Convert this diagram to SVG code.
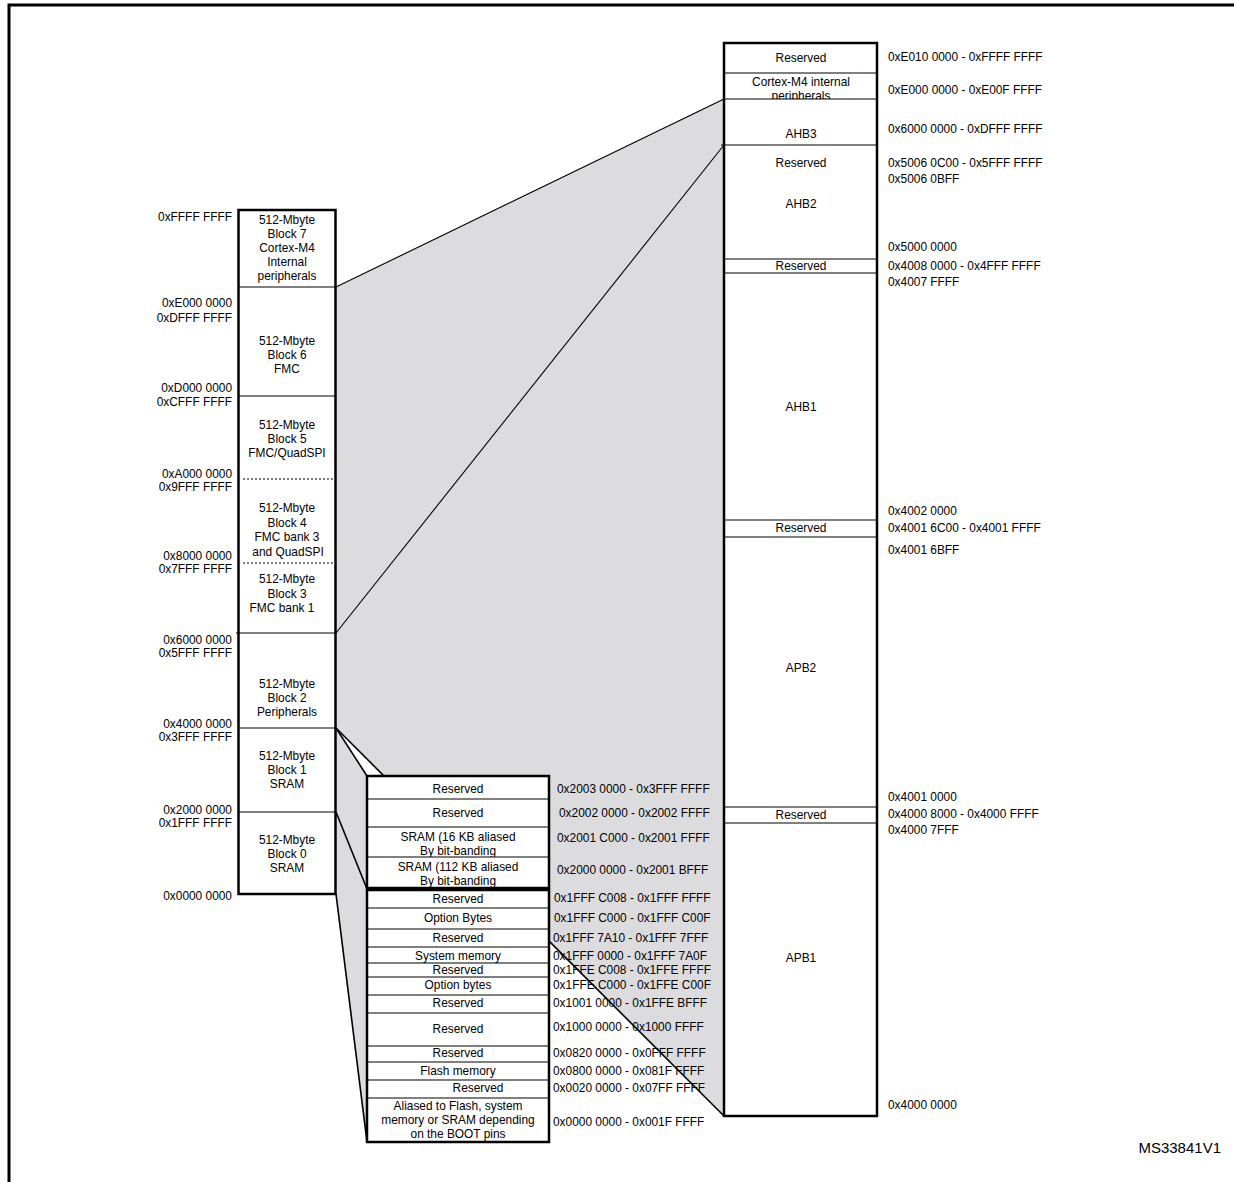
<svg xmlns="http://www.w3.org/2000/svg" width="1234" height="1182" viewBox="0 0 1234 1182">
<style>
.t{font-family:"Liberation Sans",Arial,sans-serif;font-size:11.9px;fill:#000}
.c{text-anchor:middle}
.e{text-anchor:end}
.cell{fill:#fff;stroke:none}
.sep{stroke:#000;stroke-width:1.2}
.dot{stroke:#000;stroke-width:1.2;stroke-dasharray:2 2}
.frame{fill:none;stroke:#000;stroke-width:2.5}
.ln{stroke:#000;fill:none;stroke-width:1.1}
.lt{stroke:#000;fill:none;stroke-width:1.6}
.gray{fill:#dcdcde}
</style>
<rect width="1234" height="1182" fill="#fff"/>
<path d="M9 1182 V5 H1234" fill="none" stroke="#000" stroke-width="3"/>

<g id="projection">
<polygon class="gray" points="336,287 723,99 723,1116 336,728"/>
<polygon class="gray" points="336,728 367,776 367,1142 336,893"/>
</g>

<g id="connectors">
<line class="ln" x1="336" y1="287" x2="724" y2="99"/>
<line class="ln" x1="336" y1="633" x2="724" y2="145"/>
<line class="lt" x1="336" y1="728" x2="724" y2="1116"/>
<line class="lt" x1="336" y1="728" x2="367" y2="776"/>
<line class="lt" x1="336" y1="812" x2="367" y2="889"/>
<line class="lt" x1="336" y1="894" x2="367" y2="1142"/>
</g>

<!-- Left column -->
<g id="block7">
<rect class="cell" x="238.5" y="210" width="97" height="77"/>
<text class="t c" x="287" y="224">512-Mbyte</text>
<text class="t c" x="287" y="238">Block 7</text>
<text class="t c" x="287" y="252">Cortex-M4</text>
<text class="t c" x="287" y="266">Internal</text>
<text class="t c" x="287" y="280">peripherals</text>
</g>
<g id="block6">
<rect class="cell" x="238.5" y="287" width="97" height="109"/>
<text class="t c" x="287" y="345">512-Mbyte</text>
<text class="t c" x="287" y="359">Block 6</text>
<text class="t c" x="287" y="373">FMC</text>
</g>
<g id="block5">
<rect class="cell" x="238.5" y="396" width="97" height="83"/>
<text class="t c" x="287" y="429">512-Mbyte</text>
<text class="t c" x="287" y="443">Block 5</text>
<text class="t c" x="287" y="457">FMC/QuadSPI</text>
</g>
<g id="block4">
<rect class="cell" x="238.5" y="479" width="97" height="84"/>
<text class="t c" x="287" y="512">512-Mbyte</text>
<text class="t c" x="287" y="527">Block 4</text>
<text class="t c" x="287" y="541">FMC bank 3</text>
<text class="t c" x="288" y="556">and QuadSPI</text>
</g>
<g id="block3">
<rect class="cell" x="238.5" y="563" width="97" height="70"/>
<text class="t c" x="287" y="583">512-Mbyte</text>
<text class="t c" x="287" y="598">Block 3</text>
<text class="t c" x="282" y="612">FMC bank 1</text>
</g>
<g id="block2">
<rect class="cell" x="238.5" y="633" width="97" height="95"/>
<text class="t c" x="287" y="688">512-Mbyte</text>
<text class="t c" x="287" y="702">Block 2</text>
<text class="t c" x="287" y="716">Peripherals</text>
</g>
<g id="block1">
<rect class="cell" x="238.5" y="728" width="97" height="84"/>
<text class="t c" x="287" y="760">512-Mbyte</text>
<text class="t c" x="287" y="774">Block 1</text>
<text class="t c" x="287" y="788">SRAM</text>
</g>
<g id="block0">
<rect class="cell" x="238.5" y="812" width="97" height="82"/>
<text class="t c" x="287" y="844">512-Mbyte</text>
<text class="t c" x="287" y="858">Block 0</text>
<text class="t c" x="287" y="872">SRAM</text>
</g>
<g id="left-separators">
<line class="sep" x1="238.5" y1="287" x2="335.5" y2="287"/>
<line class="sep" x1="238.5" y1="396" x2="335.5" y2="396"/>
<line class="dot" x1="243" y1="479" x2="334" y2="479"/>
<line class="dot" x1="243" y1="563" x2="334" y2="563"/>
<line class="sep" x1="236" y1="633" x2="335.5" y2="633"/>
<line class="sep" x1="238.5" y1="728" x2="335.5" y2="728"/>
<line class="sep" x1="238.5" y1="812" x2="335.5" y2="812"/>
<rect class="frame" x="238.5" y="210" width="97" height="684"/>
</g>
<g id="left-addresses">
<text class="t e" x="232" y="221">0xFFFF FFFF</text>
<text class="t e" x="232" y="307">0xE000 0000</text>
<text class="t e" x="232" y="322">0xDFFF FFFF</text>
<text class="t e" x="232" y="392">0xD000 0000</text>
<text class="t e" x="232" y="406">0xCFFF FFFF</text>
<text class="t e" x="232" y="478">0xA000 0000</text>
<text class="t e" x="232" y="491">0x9FFF FFFF</text>
<text class="t e" x="232" y="560">0x8000 0000</text>
<text class="t e" x="232" y="573">0x7FFF FFFF</text>
<text class="t e" x="232" y="644">0x6000 0000</text>
<text class="t e" x="232" y="657">0x5FFF FFFF</text>
<text class="t e" x="232" y="728">0x4000 0000</text>
<text class="t e" x="232" y="741">0x3FFF FFFF</text>
<text class="t e" x="232" y="814">0x2000 0000</text>
<text class="t e" x="232" y="827">0x1FFF FFFF</text>
<text class="t e" x="232" y="900">0x0000 0000</text>
</g>

<!-- Right column -->
<g id="r-reserved-top">
<rect class="cell" x="724" y="43" width="153" height="30"/>
<text class="t c" x="801" y="62">Reserved</text>
</g>
<g id="r-cortex">
<rect class="cell" x="724" y="73" width="153" height="26"/>
<text class="t c" x="801" y="86">Cortex-M4 internal</text>
<text class="t c" x="801" y="100">peripherals</text>
</g>
<g id="r-ahb3">
<rect class="cell" x="724" y="99" width="153" height="46"/>
<text class="t c" x="801" y="138">AHB3</text>
</g>
<g id="r-ahb2">
<rect class="cell" x="724" y="145" width="153" height="114"/>
<text class="t c" x="801" y="208">AHB2</text>
</g>
<g id="r-reserved-ahb2">
<text class="t c" x="801" y="167">Reserved</text>
</g>
<g id="r-reserved-2">
<rect class="cell" x="724" y="259" width="153" height="14"/>
<text class="t c" x="801" y="270">Reserved</text>
</g>
<g id="r-ahb1">
<rect class="cell" x="724" y="273" width="153" height="247"/>
<text class="t c" x="801" y="411">AHB1</text>
</g>
<g id="r-reserved-3">
<rect class="cell" x="724" y="520" width="153" height="17"/>
<text class="t c" x="801" y="532">Reserved</text>
</g>
<g id="r-apb2">
<rect class="cell" x="724" y="537" width="153" height="270"/>
<text class="t c" x="801" y="672">APB2</text>
</g>
<g id="r-reserved-4">
<rect class="cell" x="724" y="807" width="153" height="16"/>
<text class="t c" x="801" y="819">Reserved</text>
</g>
<g id="r-apb1">
<rect class="cell" x="724" y="823" width="153" height="293"/>
<text class="t c" x="801" y="962">APB1</text>
</g>
<g id="right-separators">
<line class="sep" x1="724" y1="73" x2="877" y2="73"/>
<line class="sep" x1="724" y1="99" x2="877" y2="99"/>
<line class="sep" x1="721" y1="145" x2="877" y2="145"/>
<line class="sep" x1="724" y1="259" x2="877" y2="259"/>
<line class="sep" x1="724" y1="273" x2="877" y2="273"/>
<line class="sep" x1="724" y1="520" x2="877" y2="520"/>
<line class="sep" x1="724" y1="537" x2="877" y2="537"/>
<line class="sep" x1="724" y1="807" x2="877" y2="807"/>
<line class="sep" x1="724" y1="823" x2="877" y2="823"/>
<rect class="frame" x="724" y="43" width="153" height="1073"/>
</g>
<g id="right-addresses">
<text class="t" x="888" y="61">0xE010 0000 - 0xFFFF FFFF</text>
<text class="t" x="888" y="94">0xE000 0000 - 0xE00F FFFF</text>
<text class="t" x="888" y="133">0x6000 0000 - 0xDFFF FFFF</text>
<text class="t" x="888" y="167">0x5006 0C00 - 0x5FFF FFFF</text>
<text class="t" x="888" y="183">0x5006 0BFF</text>
<text class="t" x="888" y="251">0x5000 0000</text>
<text class="t" x="888" y="270">0x4008 0000 - 0x4FFF FFFF</text>
<text class="t" x="888" y="286">0x4007 FFFF</text>
<text class="t" x="888" y="515">0x4002 0000</text>
<text class="t" x="888" y="532">0x4001 6C00 - 0x4001 FFFF</text>
<text class="t" x="888" y="554">0x4001 6BFF</text>
<text class="t" x="888" y="801">0x4001 0000</text>
<text class="t" x="888" y="818">0x4000 8000 - 0x4000 FFFF</text>
<text class="t" x="888" y="834">0x4000 7FFF</text>
<text class="t" x="888" y="1109">0x4000 0000</text>
</g>

<!-- Middle column -->
<g id="m-reserved-1">
<rect class="cell" x="367" y="776" width="182" height="23"/>
<text class="t c" x="458" y="793">Reserved</text>
</g>
<g id="m-reserved-2">
<rect class="cell" x="367" y="799" width="182" height="28"/>
<text class="t c" x="458" y="817">Reserved</text>
</g>
<g id="m-sram16">
<rect class="cell" x="367" y="827" width="182" height="30"/>
<text class="t c" x="458" y="841">SRAM (16 KB aliased</text>
<text class="t c" x="458" y="855">By bit-banding</text>
</g>
<g id="m-sram112">
<rect class="cell" x="367" y="857" width="182" height="31"/>
<text class="t c" x="458" y="871">SRAM (112 KB aliased</text>
<text class="t c" x="458" y="885">By bit-banding</text>
</g>
<g id="m-reserved-3">
<rect class="cell" x="367" y="890" width="182" height="18"/>
<text class="t c" x="458" y="903">Reserved</text>
</g>
<g id="m-option-bytes-1">
<rect class="cell" x="367" y="908" width="182" height="21"/>
<text class="t c" x="458" y="922">Option Bytes</text>
</g>
<g id="m-reserved-4">
<rect class="cell" x="367" y="929" width="182" height="18"/>
<text class="t c" x="458" y="942">Reserved</text>
</g>
<g id="m-system-memory">
<rect class="cell" x="367" y="947" width="182" height="16"/>
<text class="t c" x="458" y="960">System memory</text>
</g>
<g id="m-reserved-5">
<rect class="cell" x="367" y="963" width="182" height="14"/>
<text class="t c" x="458" y="974">Reserved</text>
</g>
<g id="m-option-bytes-2">
<rect class="cell" x="367" y="977" width="182" height="18"/>
<text class="t c" x="458" y="989">Option bytes</text>
</g>
<g id="m-reserved-6">
<rect class="cell" x="367" y="995" width="182" height="18"/>
<text class="t c" x="458" y="1007">Reserved</text>
</g>
<g id="m-reserved-7">
<rect class="cell" x="367" y="1013" width="182" height="33"/>
<text class="t c" x="458" y="1033">Reserved</text>
</g>
<g id="m-reserved-8">
<rect class="cell" x="367" y="1046" width="182" height="16"/>
<text class="t c" x="458" y="1057">Reserved</text>
</g>
<g id="m-flash">
<rect class="cell" x="367" y="1062" width="182" height="18"/>
<text class="t c" x="458" y="1075">Flash memory</text>
</g>
<g id="m-reserved-9">
<rect class="cell" x="367" y="1080" width="182" height="18"/>
<text class="t c" x="478" y="1092">Reserved</text>
</g>
<g id="m-aliased">
<rect class="cell" x="367" y="1098" width="182" height="44"/>
<text class="t c" x="458" y="1110">Aliased to Flash, system</text>
<text class="t c" x="458" y="1124">memory or SRAM depending</text>
<text class="t c" x="458" y="1138">on the BOOT pins</text>
</g>
<g id="middle-separators">
<line class="sep" x1="367" y1="799" x2="549" y2="799"/>
<line class="sep" x1="367" y1="827" x2="549" y2="827"/>
<line class="sep" x1="367" y1="857" x2="549" y2="857"/>
<line class="sep" x1="367" y1="908" x2="549" y2="908"/>
<line class="sep" x1="367" y1="929" x2="549" y2="929"/>
<line class="sep" x1="367" y1="947" x2="549" y2="947"/>
<line class="sep" x1="367" y1="963" x2="549" y2="963"/>
<line class="sep" x1="367" y1="977" x2="549" y2="977"/>
<line class="sep" x1="367" y1="995" x2="549" y2="995"/>
<line class="sep" x1="367" y1="1013" x2="549" y2="1013"/>
<line class="sep" x1="367" y1="1046" x2="549" y2="1046"/>
<line class="sep" x1="367" y1="1062" x2="549" y2="1062"/>
<line class="sep" x1="367" y1="1080" x2="549" y2="1080"/>
<line class="sep" x1="367" y1="1098" x2="549" y2="1098"/>
<rect class="frame" x="367" y="776" width="182" height="112"/>
<rect class="frame" x="367" y="890" width="182" height="252"/>
</g>
<g id="middle-addresses">
<text class="t" x="557" y="793">0x2003 0000 - 0x3FFF FFFF</text>
<text class="t" x="559" y="817">0x2002 0000 - 0x2002 FFFF</text>
<text class="t" x="557" y="842">0x2001 C000 - 0x2001 FFFF</text>
<text class="t" x="557" y="874">0x2000 0000 - 0x2001 BFFF</text>
<text class="t" x="554" y="902">0x1FFF C008 - 0x1FFF FFFF</text>
<text class="t" x="554" y="922">0x1FFF C000 - 0x1FFF C00F</text>
<text class="t" x="553" y="942">0x1FFF 7A10 - 0x1FFF 7FFF</text>
<text class="t" x="553" y="960">0x1FFF 0000 - 0x1FFF 7A0F</text>
<text class="t" x="553" y="974">0x1FFE C008 - 0x1FFE FFFF</text>
<text class="t" x="553" y="989">0x1FFE C000 - 0x1FFE C00F</text>
<text class="t" x="553" y="1007">0x1001 0000 - 0x1FFE BFFF</text>
<text class="t" x="553" y="1031">0x1000 0000 - 0x1000 FFFF</text>
<text class="t" x="553" y="1057">0x0820 0000 - 0x0FFF FFFF</text>
<text class="t" x="553" y="1075">0x0800 0000 - 0x081F FFFF</text>
<text class="t" x="553" y="1092">0x0020 0000 - 0x07FF FFFF</text>
<text class="t" x="553" y="1126">0x0000 0000 - 0x001F FFFF</text>
</g>

<text class="t e" x="1221" y="1153" style="font-size:15px">MS33841V1</text>
</svg>
